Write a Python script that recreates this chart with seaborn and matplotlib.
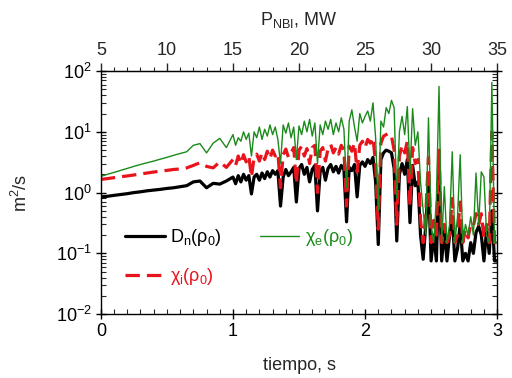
import numpy as np
import pandas as pd
import matplotlib
matplotlib.use("Agg")
import matplotlib.pyplot as plt
import seaborn as sns
from matplotlib.ticker import MultipleLocator, LogLocator, FixedLocator, NullFormatter

# ---- data ----
t_smooth = np.linspace(0.0, 0.95, 20)
dn_smooth = [0.84, 0.87, 0.90, 0.93, 0.96, 1.00, 1.03, 1.07, 1.10, 1.13,
             1.17, 1.20, 1.25, 1.30, 1.50, 1.55, 1.20, 1.42, 1.38, 1.55]
chii_smooth = [1.65, 1.70, 1.76, 1.82, 1.88, 1.95, 2.02, 2.10, 2.18, 2.25,
               2.32, 2.40, 2.45, 2.55, 2.80, 3.10, 2.70, 2.55, 3.20, 2.60]
chie_smooth = [1.85, 2.00, 2.15, 2.32, 2.50, 2.70, 2.90, 3.10, 3.30, 3.55,
               3.80, 4.10, 4.40, 4.70, 6.00, 6.40, 4.50, 6.50, 7.80, 5.50]

t_noisy = np.linspace(1.0, 3.0, 101)
dn_noisy = [1.8, 1.4, 1.9, 1.5, 2.0, 1.6, 1.9, 0.95, 1.8, 2.0,
            1.6, 2.1, 1.7, 2.2, 1.8, 2.3, 2.0, 2.3, 0.6, 1.8,
            2.4, 1.9, 2.2, 2.6, 0.7, 2.5, 2.9, 2.0, 2.6, 1.5,
            2.4, 2.8, 0.5, 2.2, 2.6, 1.6, 2.5, 2.9, 2.2, 2.7,
            2.1, 2.8, 2.4, 0.33, 2.6, 2.3, 2.9, 0.85, 2.8, 3.2,
            2.7, 3.5, 3.0, 3.8, 1.5, 0.14, 3.5, 4.5, 5.0, 4.8,
            4.5, 2.5, 0.16, 2.0, 3.0, 2.0, 3.5, 0.32, 2.8, 1.3,
            1.5, 0.2, 0.08, 0.3, 1.6, 0.075, 0.2, 0.075, 2.4, 0.075,
            0.25, 0.075, 0.2, 0.4, 0.075, 0.12, 0.3, 0.075, 0.1, 0.075,
            0.15, 0.1, 0.22, 0.28, 0.2, 0.075, 0.25, 0.1, 0.5, 0.075,
            0.075]
chii_noisy = [3.5, 2.8, 4.0, 3.0, 4.2, 3.2, 4.0, 1.8, 3.8, 4.3,
              3.3, 4.5, 3.5, 4.8, 3.6, 5.0, 4.0, 4.5, 1.2, 4.2,
              5.2, 3.8, 4.5, 5.5, 1.4, 5.0, 5.8, 4.0, 5.3, 3.0,
              5.5, 6.0, 1.0, 4.8, 5.5, 3.3, 5.3, 6.2, 4.5, 5.5,
              4.3, 6.0, 5.0, 0.6, 5.8, 4.8, 6.5, 2.2, 6.0, 7.0,
              5.5, 7.5, 6.5, 8.0, 3.0, 0.25, 6.5, 8.5, 9.0, 9.5,
              8.5, 5.0, 0.3, 4.0, 6.0, 4.5, 7.0, 0.6, 5.5, 3.0,
              3.5, 0.35, 0.15, 0.45, 3.8, 0.15, 0.35, 0.2, 5.0, 0.15,
              0.3, 0.15, 0.2, 0.8, 0.15, 0.2, 0.7, 0.15, 0.25, 0.18,
              0.3, 0.28, 0.45, 0.3, 0.45, 0.18, 0.3, 0.15, 10.0, 0.15,
              0.15]
chie_noisy = [9.0, 6.0, 8.0, 7.0, 10.0, 7.5, 9.5, 4.0, 10.0, 8.0,
              12.0, 7.5, 11.0, 8.5, 13.0, 9.0, 12.0, 7.5, 3.0, 13.0,
              9.5, 14.0, 8.0, 12.0, 3.5, 12.5, 9.0, 15.0, 10.0, 16.0,
              8.5, 14.0, 3.0, 13.0, 9.0, 15.0, 11.0, 16.0, 9.0, 14.0,
              10.0, 17.0, 11.0, 1.2, 15.0, 23.0, 12.0, 7.0, 20.0, 14.0,
              18.0, 22.0, 15.0, 30.0, 8.0, 0.5, 15.0, 12.0, 25.0, 20.0,
              33.0, 25.0, 0.8, 10.0, 18.0, 9.0, 26.0, 2.0, 24.0, 6.0,
              10.0, 1.5, 0.5, 0.2, 17.0, 0.3, 0.15, 0.8, 56.0, 0.15,
              1.25, 0.15, 0.3, 4.7, 0.15, 0.4, 4.2, 0.15, 0.3, 0.2,
              0.4, 0.2, 2.1, 0.3, 2.2, 1.8, 0.2, 0.15, 65.0, 0.15,
              0.15]

t = np.concatenate([t_smooth, t_noisy])
df = pd.DataFrame({
    "t": t,
    "Dn": np.concatenate([dn_smooth, dn_noisy]),
    "chii": np.concatenate([chii_smooth, chii_noisy]),
    "chie": np.concatenate([chie_smooth, chie_noisy]),
})

sns.set_style("ticks")
plt.rcParams["font.family"] = ["Liberation Sans", "DejaVu Sans"]
plt.rcParams["mathtext.default"] = "regular"

FS = 13
fig = plt.figure(figsize=(5.12, 3.78), dpi=100)
ax = fig.add_axes([0.197, 0.169, 0.774, 0.643])

RED = "#e8131b"
GREEN = "#1a8a1a"

sns.lineplot(data=df, x="t", y="Dn", ax=ax, color="black", lw=2.3,
             label="D$_\\mathdefault{n}$(ρ$_\\mathdefault{0}$)", legend=False)
sns.lineplot(data=df, x="t", y="chii", ax=ax, color=RED, lw=2.3,
             label="χ$_\\mathdefault{i}$(ρ$_\\mathdefault{0}$)", legend=False)
ax.get_lines()[-1].set_dashes([4.5, 2.2])
sns.lineplot(data=df, x="t", y="chie", ax=ax, color=GREEN, lw=1.0,
             label="χ$_\\mathdefault{e}$(ρ$_\\mathdefault{0}$)", legend=False)

ax.set_yscale("log")
ax.set_ylim(1e-2, 1e2)
ax.set_xlim(0, 3)
ax.xaxis.set_major_locator(FixedLocator([0, 1, 2, 3]))
ax.xaxis.set_minor_locator(MultipleLocator(0.1))
ax.yaxis.set_major_locator(LogLocator(base=10, numticks=10))
ax.yaxis.set_minor_locator(LogLocator(base=10, subs=np.arange(2, 10), numticks=20))
ax.yaxis.set_minor_formatter(NullFormatter())

for s in ax.spines.values():
    s.set_linewidth(1.0)
    s.set_color("black")

ax.tick_params(which="major", direction="inout", length=7, width=1.0,
               labelsize=FS, top=False, right=True, pad=3, colors="black")
ax.tick_params(which="minor", direction="in", length=3.5, width=0.8,
               top=False, right=True)
ax.tick_params(axis="x", which="major", pad=3)

ax.set_xlabel("tiempo, s", fontsize=FS, labelpad=12)
ax.set_ylabel("m$^\\mathdefault{2}$/s", fontsize=FS, labelpad=18)

secax = ax.secondary_xaxis("top", functions=(lambda x: 5 + 10 * x,
                                             lambda p: (p - 5) / 10))
secax.xaxis.set_major_locator(FixedLocator([5, 10, 15, 20, 25, 30, 35]))
secax.xaxis.set_minor_locator(MultipleLocator(1))
secax.tick_params(which="major", direction="out", length=6, width=1.0,
                  labelsize=FS, pad=3)
secax.tick_params(which="minor", direction="out", length=3, width=0.8)
secax.set_xlabel("P$_\\mathdefault{NBI}$, MW", fontsize=FS, labelpad=12)

lines = ax.get_lines()
handles = [lines[0], lines[1], lines[2]]
leg = ax.legend(handles=handles, labels=[h.get_label() for h in handles],
                ncol=2, loc="lower left", bbox_to_anchor=(0.02, 0.044),
                frameon=False, fontsize=FS, handlelength=2.2,
                columnspacing=2.1, labelspacing=1.0, handletextpad=0.3,
                labelcolor="linecolor")

fig.savefig("out.png", dpi=100)
